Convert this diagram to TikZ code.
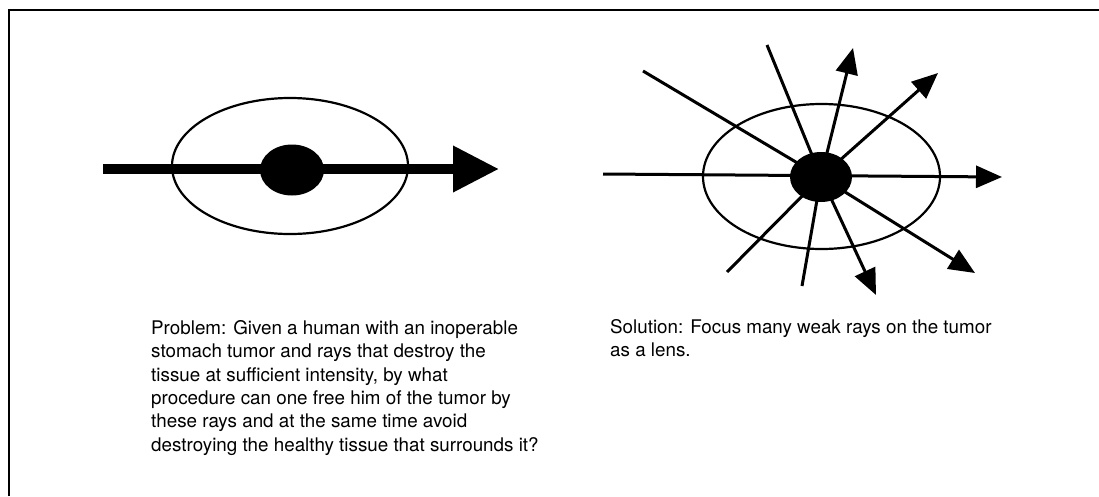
\documentclass[tikz,border=0pt]{standalone}
\usepackage{fontspec}
\setmainfont{TeX Gyre Heros}
\usetikzlibrary{arrows.meta,shapes.geometric}
\begin{document}
\begin{tikzpicture}[x=1pt,y=-1pt,
  outline/.style={draw=black, line width=2.2pt, ellipse, inner sep=0pt},
  tumor/.style={ellipse, fill=black, inner sep=0pt},
  ray/.style={line width=3pt},
  rayarrow/.style={line width=3pt, -{Triangle[length=26pt,width=22pt]}},
  bigray/.style={line width=10pt, -{Triangle[length=46pt,width=44pt]}},
  caption/.style={anchor=north west, inner sep=0pt, align=left, font=\fontsize{18.8pt}{23.4pt}\selectfont}]
\useasboundingbox (0,0) rectangle (1099,496);
\fill[white] (0,0) rectangle (1099,496);
% frame
\coordinate (fTL) at (9,10);
\coordinate (fTR) at (1099,10);
\coordinate (fBL) at (9,496);
\draw[line width=2.5pt] (fBL) -- (fTL) -- (fTR);
% left diagram: problem
\node[outline, minimum width=236pt, minimum height=136pt] (body1) at (290,166) {};
\coordinate (s1) at (103,169);
\coordinate (t1) at (499,169);
\draw[bigray] (s1) -- (t1);
\node[tumor, minimum width=64pt, minimum height=51pt] (tum1) at (292,170) {};
% right diagram: solution
\node[outline, minimum width=237pt, minimum height=145pt] (body2) at (821.5,176.5) {};
\coordinate (c2) at (821,177);
\coordinate (in1) at (643,71);
\coordinate (in2) at (767,45);
\coordinate (in3) at (802,286);
\coordinate (in4) at (727,272);
\coordinate (in5) at (603,174);
\coordinate (out1) at (853,48);
\coordinate (out2) at (938,73);
\coordinate (out3) at (1002,177);
\coordinate (out4) at (975,273);
\coordinate (out5) at (876,295);
\draw[ray] (in1) -- (c2);
\draw[ray] (in2) -- (c2);
\draw[ray] (in3) -- (c2);
\draw[ray] (in4) -- (c2);
\draw[rayarrow] (in5) -- (out3);
\draw[rayarrow] (c2) -- (out1);
\draw[rayarrow] (c2) -- (out2);
\draw[rayarrow] (c2) -- (out4);
\draw[rayarrow] (c2) -- (out5);
\node[tumor, minimum width=62pt, minimum height=50pt] (tum2) at (c2) {};
% captions
\node[caption] (prob) at (151,320) {Problem: Given a human with an inoperable\\
stomach tumor and rays that destroy the\\
tissue at sufficient intensity, by what\\
procedure can one free him of the tumor by\\
these rays and at the same time avoid\\
destroying the healthy tissue that surrounds it?};
\node[caption] (sol) at (610,319) {Solution: Focus many weak rays on the tumor\\
as a lens.};
\end{tikzpicture}
\end{document}
